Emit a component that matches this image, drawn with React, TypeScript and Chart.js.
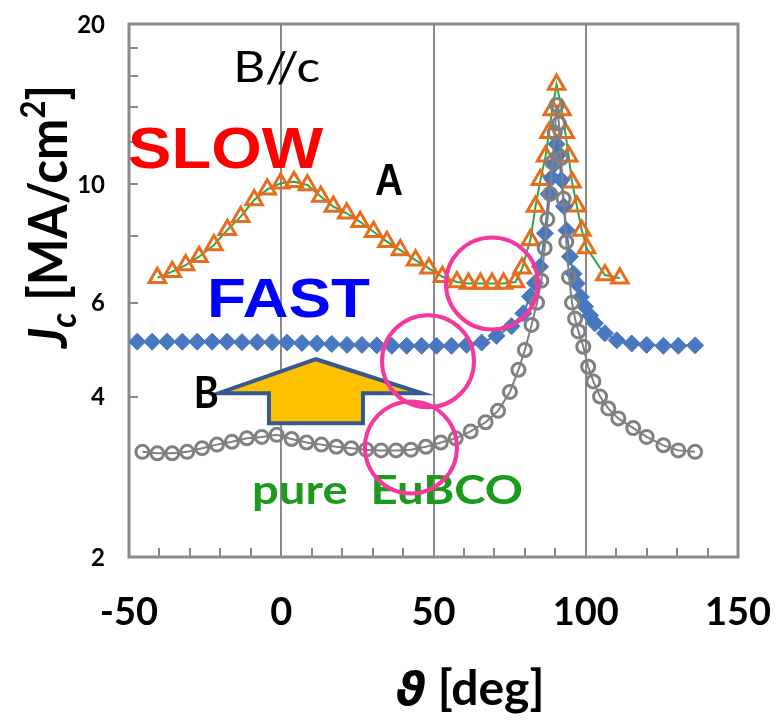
import React, { useEffect, useRef } from 'react';
import { Chart, registerables } from 'chart.js';

Chart.register(...registerables);

// pure EuBCO film (grey open circles)
const pureAngle = [-45.6, -40.7, -35.8, -30.9, -26.0, -21.1, -16.2, -11.3, -6.4, -1.5, 3.4, 8.3, 13.2, 18.1, 23.0, 27.9, 32.8, 37.7, 42.6, 47.5, 52.4, 57.3, 62.2, 67.1, 71.2, 75.1, 77.9, 80.0, 82.2, 84.0, 85.4, 86.5, 87.4, 88.3, 89.1, 89.8, 90.5, 91.2, 91.9, 92.7, 93.6, 94.5, 95.5, 96.5, 97.6, 99.2, 100.8, 102.5, 104.7, 107.4, 110.7, 115.6, 120.0, 125.5, 130.4, 135.9];
const pureJc = [3.15, 3.13, 3.13, 3.15, 3.20, 3.25, 3.29, 3.34, 3.36, 3.39, 3.33, 3.28, 3.25, 3.22, 3.20, 3.18, 3.17, 3.17, 3.18, 3.22, 3.28, 3.34, 3.44, 3.58, 3.76, 4.08, 4.49, 4.89, 5.45, 6.0, 6.6, 7.6, 8.6, 9.6, 11.0, 12.5, 14.1, 13.0, 11.2, 9.4, 7.8, 6.7, 6.0, 5.6, 5.3, 4.96, 4.55, 4.27, 4.0, 3.80, 3.64, 3.49, 3.36, 3.24, 3.17, 3.15];

// FAST growth (blue diamonds)
const fastAngle = [-47.3, -42.4, -37.5, -32.5, -27.6, -22.7, -17.8, -12.9, -7.9, -3.0, 1.9, 6.8, 11.7, 16.6, 21.6, 26.5, 31.4, 36.3, 41.2, 46.1, 51.0, 55.9, 60.9, 65.8, 70.7, 75.6, 79.5, 81.7, 83.3, 85.0, 86.6, 87.8, 88.8, 89.6, 90.4, 91.2, 92.0, 92.8, 93.7, 94.8, 96.0, 97.0, 98.4, 99.8, 101.4, 103.0, 106.3, 110.2, 115.1, 120.0, 125.5, 130.4, 135.9];
const fastJc = [5.07, 5.07, 5.07, 5.07, 5.07, 5.07, 5.07, 5.06, 5.06, 5.06, 5.05, 5.04, 5.03, 5.02, 5.0, 5.0, 4.99, 4.98, 4.98, 4.98, 4.98, 4.98, 5.0, 5.05, 5.2, 5.42, 5.73, 6.16, 6.53, 7.01, 8.1, 9.6, 10.3, 10.9, 11.9, 11.4, 10.2, 9.1, 8.2, 7.32, 6.8, 6.52, 6.15, 5.9, 5.68, 5.49, 5.26, 5.10, 5.03, 5.0, 4.98, 4.98, 4.99];

// SLOW growth (orange open triangles)
const slowAngle = [-40.7, -35.8, -31.4, -27.0, -22.1, -17.7, -13.3, -8.9, -4.6, -0.2, 4.2, 8.6, 13.0, 17.1, 21.5, 25.9, 30.3, 34.7, 39.1, 44.1, 48.5, 52.9, 57.7, 61.5, 65.4, 69.2, 73.0, 76.9, 79.1, 81.8, 83.5, 85.1, 86.8, 87.9, 89.0, 90.4, 92.2, 93.3, 94.4, 95.5, 97.1, 98.7, 100.3, 106.3, 111.2];
const slowJc = [6.68, 6.86, 7.06, 7.32, 7.70, 8.22, 8.70, 9.35, 9.79, 10.05, 10.12, 9.98, 9.49, 9.09, 8.83, 8.51, 8.15, 7.81, 7.53, 7.21, 6.96, 6.71, 6.56, 6.52, 6.52, 6.52, 6.52, 6.56, 6.96, 7.87, 9.09, 10.2, 11.3, 12.5, 13.8, 15.4, 13.8, 12.5, 11.3, 10.1, 9.1, 8.2, 7.6, 6.76, 6.67];

// axes
const xTickLabels = [-50, 0, 50, 100, 150];
const xGridAngles = [0, 50, 100];
const xMinorTicks = [-40, -30, -20, -10, 10, 20, 30, 40, 60, 70, 80, 90, 110, 120, 130, 140];
const yTickLabels = [2, 4, 6, 10, 20];
const yMinorTicks = [4, 6, 8, 10, 12, 14, 16, 18];

const FRAME = '#8a8a8a';
const CAL = 'Lato, "Open Sans", sans-serif';
const ARIAL = '"Liberation Sans", Arial, sans-serif';

type Note = { text: string; at: [number, number]; font: string; color: string; width: number };

// text annotations, anchored at (angle, Jc) = left end of the baseline
const notes: Note[] = [
  { text: 'B//c', at: [-15.8, 15.56], font: `400 42px ${CAL}`, color: '#000000', width: 87 },
  { text: 'SLOW', at: [-50.3, 10.74], font: `700 57px ${ARIAL}`, color: '#ff0000', width: 195 },
  { text: 'A', at: [30.8, 9.55], font: `700 44px ${ARIAL}`, color: '#000000', width: 28 },
  { text: 'FAST', at: [-24.4, 5.64], font: `700 56px ${ARIAL}`, color: '#0000ff', width: 163 },
  { text: 'B', at: [-28.7, 3.81], font: `700 43px ${CAL}`, color: '#000000', width: 25 },
  { text: 'pure  EuBCO', at: [-9.6, 2.51], font: `700 40px ${CAL}`, color: '#1c9a1c', width: 271 },
];

// highlight rings, centred at (angle, Jc)
const rings: [number, number][] = [
  [69.2, 6.52],
  [48.2, 4.66],
  [42.6, 3.21],
];

// tip of the block arrow, at (angle, Jc)
const arrowTip: [number, number] = [11.4, 4.7];

function fitText(ctx: CanvasRenderingContext2D, text: string, x: number, y: number, width: number) {
  const w = ctx.measureText(text).width;
  ctx.save();
  ctx.translate(x, y);
  ctx.scale(width / w, 1);
  ctx.fillText(text, 0, 0);
  ctx.restore();
}

const framePlugin = {
  id: 'frame',
  beforeDatasetsDraw(chart: any) {
    const { ctx, chartArea: a } = chart;
    const x = chart.scales.x;
    const y = chart.scales.y;
    ctx.save();
    ctx.strokeStyle = FRAME;
    ctx.lineWidth = 2;
    ctx.beginPath();
    for (const g of xGridAngles) {
      const px = Math.round(x.getPixelForValue(g));
      ctx.moveTo(px, a.top);
      ctx.lineTo(px, a.bottom);
    }
    for (const t of xMinorTicks) {
      const px = Math.round(x.getPixelForValue(t));
      ctx.moveTo(px, a.bottom);
      ctx.lineTo(px, a.bottom - 9);
    }
    for (const t of yMinorTicks) {
      const py = Math.round(y.getPixelForValue(t));
      ctx.moveTo(a.left, py);
      ctx.lineTo(a.left + 9, py);
    }
    ctx.stroke();
    ctx.lineWidth = 3;
    ctx.strokeRect(a.left, a.top, a.right - a.left, a.bottom - a.top);
    ctx.restore();
  },
  afterDraw(chart: any) {
    const { ctx, chartArea: a } = chart;
    const x = chart.scales.x;
    const y = chart.scales.y;
    ctx.save();

    // tick labels
    ctx.fillStyle = '#000';
    ctx.font = `700 24px ${CAL}`;
    ctx.textAlign = 'right';
    ctx.textBaseline = 'middle';
    for (const v of yTickLabels) ctx.fillText(String(v), a.left - 24, y.getPixelForValue(v) + 1);
    ctx.font = `700 38px ${CAL}`;
    ctx.textAlign = 'center';
    for (const v of xTickLabels) ctx.fillText(String(v), x.getPixelForValue(v), a.bottom + 56);

    // x title: theta [deg]
    ctx.textAlign = 'left';
    ctx.textBaseline = 'alphabetic';
    const th = '\u03d1';
    const thFont = `italic 700 46px "DejaVu Sans", sans-serif`;
    const restFont = `700 48px ${CAL}`;
    const rest = ' [deg]';
    ctx.font = thFont;
    const thW = ctx.measureText(th).width;
    ctx.font = restFont;
    const restW = ctx.measureText(rest).width;
    const x0 = x.getPixelForValue(62) - (thW + restW) / 2;
    const base = a.bottom + 148;
    ctx.font = thFont;
    ctx.fillText(th, x0, base);
    ctx.font = restFont;
    ctx.fillText(rest, x0 + thW, base);

    // y title, rotated, reading upwards
    ctx.save();
    ctx.translate(a.left - 62, a.top + 324);
    ctx.rotate(-Math.PI / 2);
    const parts: [string, string, number][] = [
      ['J', `italic 700 54px ${CAL}`, 0],
      ['c', `italic 700 36px ${CAL}`, 9],
      [' [MA/cm', `700 54px ${CAL}`, 0],
      ['2', `700 34px ${CAL}`, -22],
      [']', `700 54px ${CAL}`, 0],
    ];
    let total = 0;
    for (const [t, f] of parts) { ctx.font = f; total += ctx.measureText(t).width; }
    ctx.scale(263 / total, 1);
    let cx = 0;
    for (const [t, f, dy] of parts) {
      ctx.font = f;
      ctx.fillText(t, cx, dy);
      cx += ctx.measureText(t).width;
    }
    ctx.restore();

    // block arrow
    const ax = x.getPixelForValue(arrowTip[0]);
    const ay = y.getPixelForValue(arrowTip[1]);
    ctx.beginPath();
    ctx.moveTo(ax - 97, ay + 34);
    ctx.lineTo(ax, ay);
    ctx.lineTo(ax + 106, ay + 34);
    ctx.lineTo(ax + 47, ay + 34);
    ctx.lineTo(ax + 47, ay + 64);
    ctx.lineTo(ax - 47, ay + 64);
    ctx.lineTo(ax - 47, ay + 34);
    ctx.closePath();
    ctx.fillStyle = '#ffc000';
    ctx.fill();
    ctx.lineWidth = 4;
    ctx.lineJoin = 'miter';
    ctx.strokeStyle = '#36598f';
    ctx.stroke();

    // text annotations
    ctx.textAlign = 'left';
    ctx.textBaseline = 'alphabetic';
    for (const n of notes) {
      ctx.font = n.font;
      ctx.fillStyle = n.color;
      fitText(ctx, n.text, x.getPixelForValue(n.at[0]), y.getPixelForValue(n.at[1]), n.width);
    }

    // highlight rings
    ctx.strokeStyle = '#f4389c';
    ctx.lineWidth = 4;
    for (const [rx, ry] of rings) {
      ctx.beginPath();
      ctx.arc(x.getPixelForValue(rx), y.getPixelForValue(ry), 46, 0, Math.PI * 2);
      ctx.stroke();
    }
    ctx.restore();
  },
};

const pts = (xs: number[], ys: number[]) => xs.map((v, i) => ({ x: v, y: ys[i] }));

export default function App() {
  const ref = useRef<HTMLCanvasElement | null>(null);
  useEffect(() => {
    if (!ref.current) return;
    const chart = new Chart(ref.current, {
      type: 'line',
      data: {
        datasets: [
          {
            label: 'pure EuBCO',
            data: pts(pureAngle, pureJc),
            borderColor: '#808080',
            borderWidth: 2,
            pointStyle: 'circle',
            pointRadius: 6.5,
            pointBorderWidth: 3,
            pointBorderColor: '#808080',
            pointBackgroundColor: 'rgba(255,255,255,0)',
          },
          {
            label: 'FAST',
            data: pts(fastAngle, fastJc),
            borderColor: '#4a78c0',
            borderWidth: 2,
            pointStyle: 'rectRot',
            pointRadius: 8.5,
            pointBorderWidth: 1,
            pointBorderColor: '#4a78c0',
            pointBackgroundColor: '#4a78c0',
          },
          {
            label: 'SLOW',
            data: pts(slowAngle, slowJc),
            borderColor: '#2aa84a',
            borderWidth: 2,
            pointStyle: 'triangle',
            pointRadius: 9.5,
            pointBorderWidth: 3,
            pointBorderColor: '#e56d1c',
            pointBackgroundColor: 'rgba(255,255,255,0)',
          },
        ],
      },
      options: {
        responsive: true,
        maintainAspectRatio: false,
        animation: false,
        events: [],
        layout: { padding: { top: 24, right: 38, left: 0, bottom: 0 } },
        plugins: { legend: { display: false }, tooltip: { enabled: false } },
        scales: {
          x: {
            type: 'linear',
            min: -50,
            max: 150,
            grid: { display: false },
            border: { display: false },
            ticks: { display: false },
            afterFit(s: any) { s.height = 169; },
          },
          y: {
            type: 'logarithmic',
            min: 2,
            max: 20,
            grid: { display: false },
            border: { display: false },
            ticks: { display: false },
            afterFit(s: any) { s.width = 129; },
          },
        },
      },
      plugins: [framePlugin],
    });
    return () => chart.destroy();
  }, []);
  return (
    <div style={{ position: 'absolute', left: 0, top: 0, width: 776, height: 726, background: '#ffffff' }}>
      <canvas ref={ref} />
    </div>
  );
}
